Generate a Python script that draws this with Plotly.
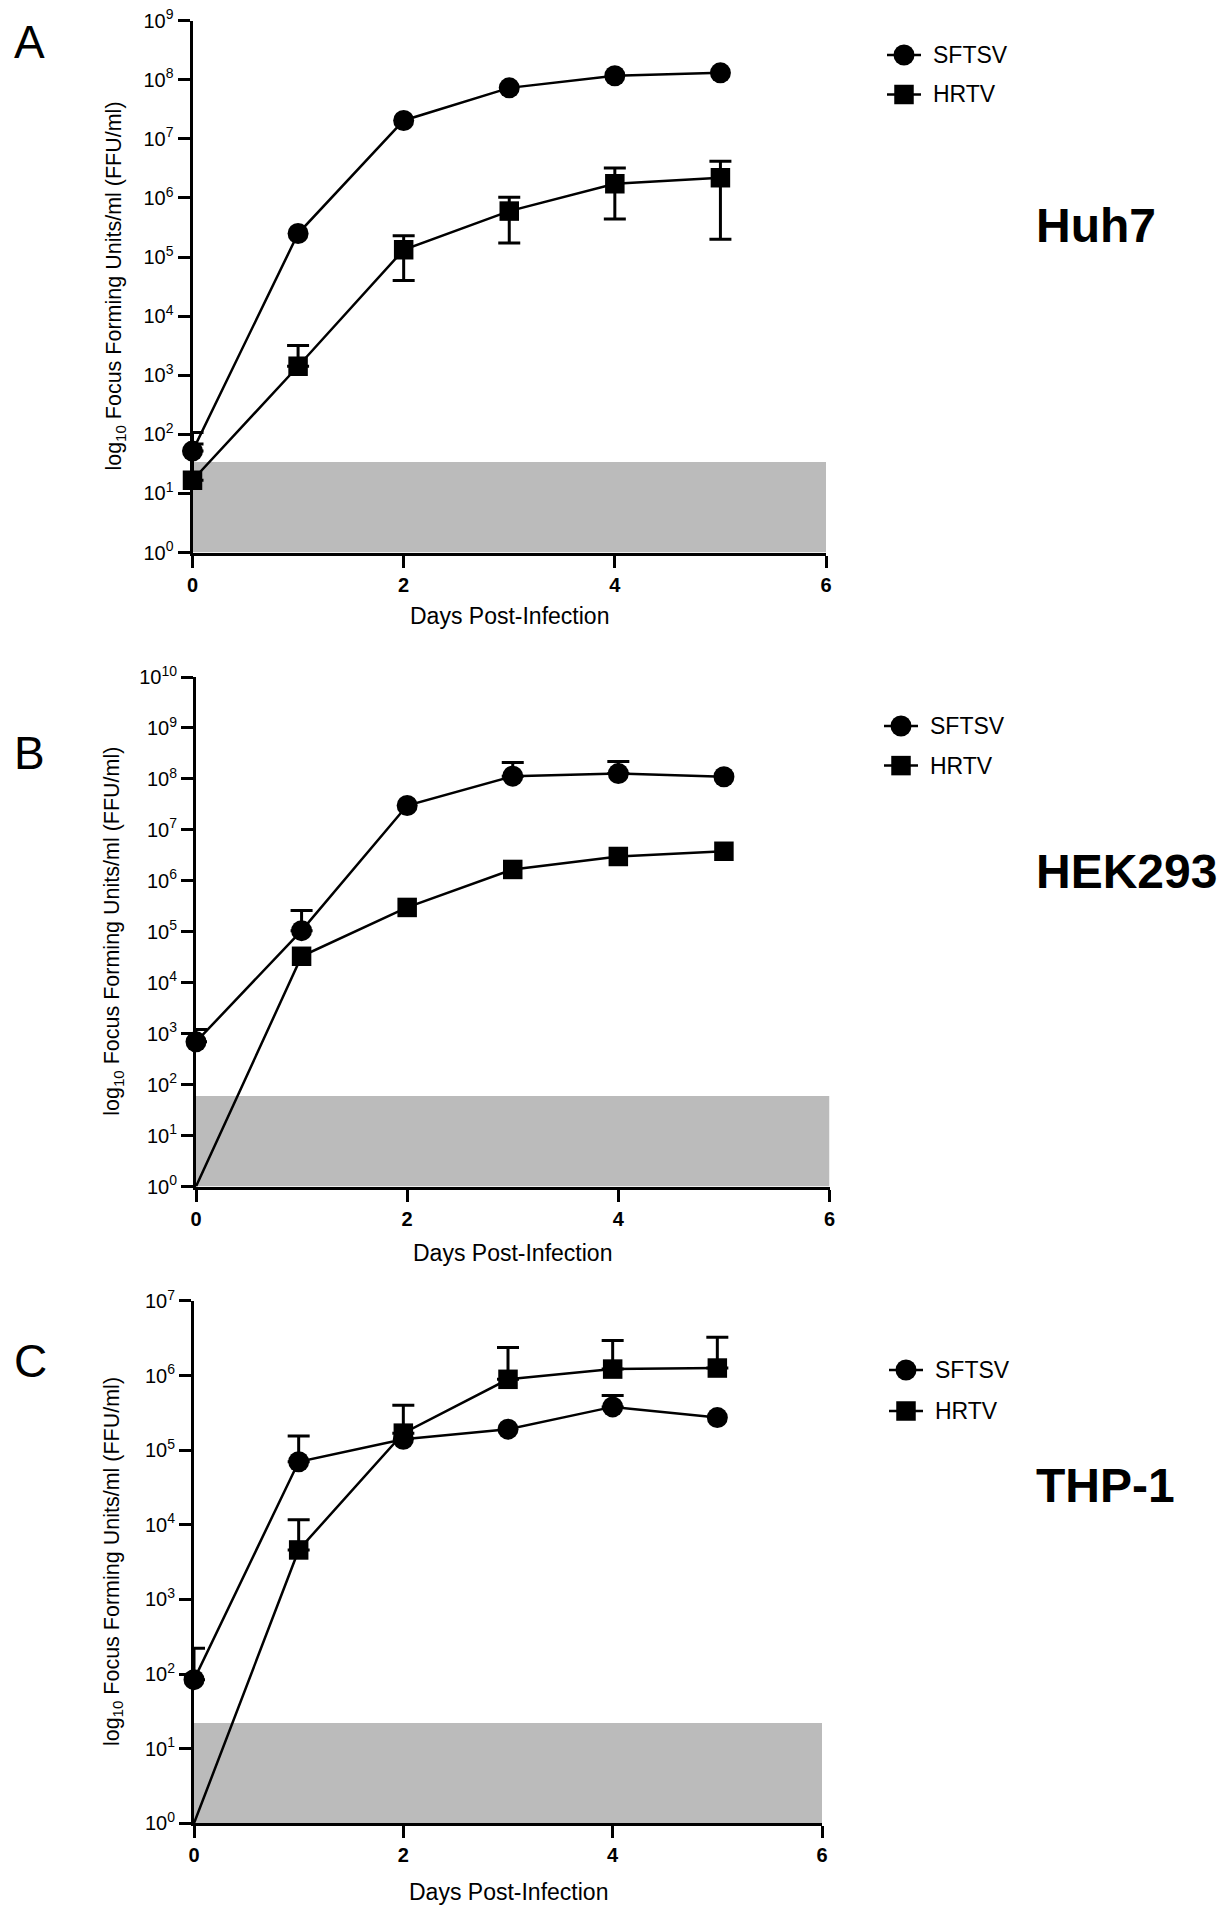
import plotly.graph_objects as go

W, H = 1229, 1920

# ---------------- data ----------------
days = [0, 1, 2, 3, 4, 5]
series_names = ["SFTSV", "HRTV"]
panel_letters = ["A", "B", "C"]
cell_lines = ["Huh7", "HEK293", "THP-1"]
x_ticks = [0, 2, 4, 6]
x_tick_labels = ["0", "2", "4", "6"]
y_exp_max = [9, 10, 7]            # top decade per panel
lod = [34, 60, 22]                # shaded limit-of-detection band (FFU/ml)

# Panel A - Huh7
a_sftsv = [52, 2.5e5, 2.05e7, 7.3e7, 1.17e8, 1.31e8]
a_sftsv_plus = [55, 0, 0, 0, 0, 0]
a_sftsv_minus = [0, 0, 0, 0, 0, 0]
a_hrtv = [16.7, 1420, 1.33e5, 6.0e5, 1.74e6, 2.2e6]
a_hrtv_plus = [52, 1780, 9.7e4, 4.3e5, 1.46e6, 2.0e6]
a_hrtv_minus = [0, 0, 9.3e4, 4.27e5, 1.30e6, 2.0e6]

# Panel B - HEK293
b_sftsv = [690, 1.05e5, 3.0e7, 1.13e8, 1.27e8, 1.1e8]
b_sftsv_plus = [510, 1.55e5, 0, 9.7e7, 9.3e7, 0]
b_sftsv_minus = [0, 0, 0, 0, 0, 0]
b_hrtv = [1, 3.3e4, 3.0e5, 1.67e6, 3.0e6, 3.8e6]
b_hrtv_plus = [0, 0, 0, 0, 0, 0]
b_hrtv_minus = [0, 0, 0, 0, 0, 0]

# Panel C - THP-1
c_sftsv = [84, 7.0e4, 1.40e5, 1.91e5, 3.8e5, 2.73e5]
c_sftsv_plus = [137, 8.5e4, 0, 0, 1.6e5, 0]
c_sftsv_minus = [0, 0, 0, 0, 0, 0]
c_hrtv = [1, 4.6e3, 1.69e5, 8.9e5, 1.22e6, 1.26e6]
c_hrtv_plus = [0, 7.1e3, 2.31e5, 1.48e6, 1.73e6, 1.99e6]
c_hrtv_minus = [0, 0, 0, 0, 0, 0]

panels = [
    {"SFTSV": (a_sftsv, a_sftsv_plus, a_sftsv_minus), "HRTV": (a_hrtv, a_hrtv_plus, a_hrtv_minus)},
    {"SFTSV": (b_sftsv, b_sftsv_plus, b_sftsv_minus), "HRTV": (b_hrtv, b_hrtv_plus, b_hrtv_minus)},
    {"SFTSV": (c_sftsv, c_sftsv_plus, c_sftsv_minus), "HRTV": (c_hrtv, c_hrtv_plus, c_hrtv_minus)},
]

# ---------------- layout geometry (pixels) ----------------
plot_px = [  # left, right, top, bottom
    (192.5, 826, 20.7, 552.5),
    (196, 829.5, 677, 1186.5),
    (194, 822, 1300.9, 1823.3),
]
legend_rows = [(55, 94.5), (726, 765.6), (1370, 1411)]
legend_marker_x = [904, 901, 906]
cell_label_y = [226, 872, 1485]
letter_pos = [(29, 42), (29, 753), (30, 1361)]
ytitle_x = [116, 114, 113]
xtitle_off = [64, 66, 69]

FONT = "Liberation Sans, Arial, Helvetica, sans-serif"
symbols = {"SFTSV": "circle", "HRTV": "square"}
msize = {"SFTSV": 21, "HRTV": 19.5}


def px(x):
    return x / W


def py(y):
    return 1 - y / H


fig = go.Figure()
annotations = []
shapes = []

for p, pdata in enumerate(panels):
    k = p + 1
    xa = "x" if k == 1 else f"x{k}"
    ya = "y" if k == 1 else f"y{k}"
    L, R, T, B = plot_px[p]

    for name in series_names:
        vals, plus, minus = pdata[name]
        # error bars (only for points that have them)
        idx = [i for i in range(len(days)) if plus[i] > 0 or minus[i] > 0]
        if idx:
            fig.add_trace(go.Scatter(
                x=[days[i] for i in idx], y=[vals[i] for i in idx],
                mode="markers", marker=dict(size=2, color="rgba(0,0,0,0)", opacity=1),
                error_y=dict(type="data", symmetric=False,
                             array=[plus[i] for i in idx],
                             arrayminus=[minus[i] for i in idx],
                             color="black", thickness=3, width=11),
                xaxis=xa, yaxis=ya, showlegend=False, cliponaxis=False,
                hoverinfo="skip"))
        sizes = [0 if v <= 1 else msize[name] for v in vals]
        fig.add_trace(go.Scatter(
            x=days, y=vals, mode="lines+markers", name=name,
            line=dict(color="black", width=2.5),
            marker=dict(symbol=symbols[name], size=sizes, color="black",
                        opacity=1, line=dict(width=0, color="black")),
            xaxis=xa, yaxis=ya, showlegend=False, cliponaxis=False))

    # LOD shading
    shapes.append(dict(type="rect", xref=xa, yref=ya, x0=0, x1=6, y0=1, y1=lod[p],
                       fillcolor="#bbbbbb", line=dict(width=0), layer="below"))

    nmax = y_exp_max[p]
    yvals = [10 ** e for e in range(nmax + 1)]
    ytext = [f"10<sup>{e}</sup>" for e in range(nmax + 1)]

    axis_common = dict(showgrid=False, zeroline=False, showline=True,
                       linecolor="black", linewidth=3, ticks="outside",
                       ticklen=12, tickwidth=3, tickcolor="black",
                       automargin=False)
    fig.update_layout(**{
        ("xaxis" if k == 1 else f"xaxis{k}"): dict(
            domain=[px(L), px(R)], anchor=ya, range=[0, 6],
            tickvals=x_ticks, ticktext=x_tick_labels,
            tickfont=dict(family=FONT, size=20, color="black", weight="bold"),
            **axis_common),
        ("yaxis" if k == 1 else f"yaxis{k}"): dict(
            domain=[py(B), py(T)], anchor=xa, type="log", range=[0, nmax],
            tickvals=yvals, ticktext=ytext, ticklabelstandoff=0,
            tickfont=dict(family=FONT, size=20, color="black"),
            **axis_common),
    })

    # axis titles
    annotations.append(dict(
        text="log<sub>10</sub> Focus Forming Units/ml (FFU/ml)",
        x=px(ytitle_x[p]), y=py((T + B) / 2), xref="paper", yref="paper",
        textangle=-90, showarrow=False, xanchor="center", yanchor="middle",
        font=dict(family=FONT, size=21.5, color="black")))
    annotations.append(dict(
        text="Days Post-Infection",
        x=px((L + R) / 2), y=py(B + xtitle_off[p]), xref="paper", yref="paper",
        showarrow=False, xanchor="center", yanchor="middle",
        font=dict(family=FONT, size=23, color="black")))
    # panel letter
    annotations.append(dict(
        text=panel_letters[p], x=px(letter_pos[p][0]), y=py(letter_pos[p][1]),
        xref="paper", yref="paper", showarrow=False, xanchor="center",
        yanchor="middle", font=dict(family=FONT, size=46, color="black")))
    # cell line label
    annotations.append(dict(
        text=f"<b>{cell_lines[p]}</b>", x=px(1034), y=py(cell_label_y[p]),
        xref="paper", yref="paper", showarrow=False, xanchor="left",
        yanchor="middle", font=dict(family=FONT, size=48, color="black")))

    # legend (drawn manually)
    mx = legend_marker_x[p]
    for name, ry in zip(series_names, legend_rows[p]):
        shapes.append(dict(type="line", xref="paper", yref="paper",
                           x0=px(mx - 17), x1=px(mx + 17), y0=py(ry), y1=py(ry),
                           line=dict(color="black", width=2.5)))
        r = msize[name] / 2
        shapes.append(dict(type="circle" if name == "SFTSV" else "rect",
                           xref="paper", yref="paper",
                           x0=px(mx - r), x1=px(mx + r), y0=py(ry + r), y1=py(ry - r),
                           fillcolor="black", line=dict(width=0)))
        annotations.append(dict(
            text=name, x=px(mx + 27), y=py(ry), xref="paper", yref="paper",
            showarrow=False, xanchor="left", yanchor="middle",
            font=dict(family=FONT, size=23, color="black")))

fig.update_layout(
    width=W, height=H, autosize=False,
    margin=dict(l=0, r=0, t=0, b=0, pad=0, autoexpand=False),
    paper_bgcolor="white", plot_bgcolor="white",
    showlegend=False,
    annotations=annotations, shapes=shapes,
    font=dict(family=FONT, color="black"),
)

fig.write_html("out.html", config={"displayModeBar": False},
               post_script="document.body.style.margin='0';document.body.style.padding='0';")
